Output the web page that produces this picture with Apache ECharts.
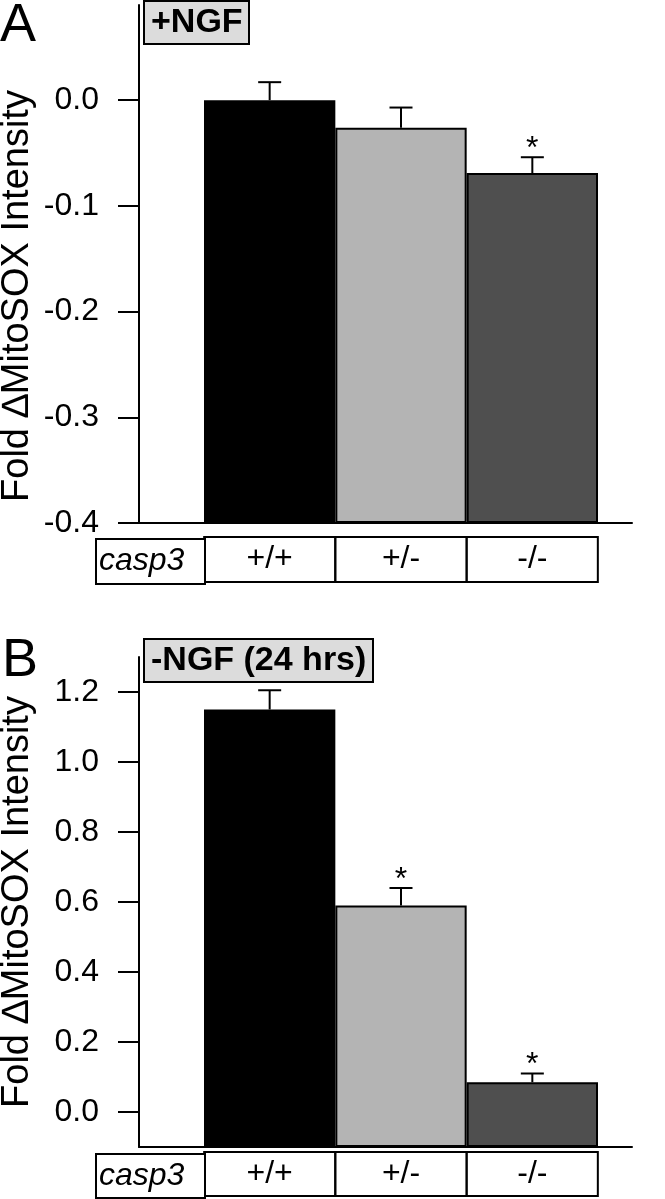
<!DOCTYPE html>
<html>
<head>
<meta charset="utf-8">
<script src="https://cdn.jsdelivr.net/npm/echarts@6/dist/echarts.min.js"></script>
<style>
  html, body { margin: 0; padding: 0; background: #fff; }
  #chart { width: 665px; height: 1199px; }
</style>
</head>
<body>
<div id="chart"></div>
<script>
const FONT = 'Liberation Sans, Arial, sans-serif'

// genotype categories and the table header
const categories = ['+/+', '+/-', '-/-']
const rowHeader = 'casp3'
const barColors = ['#000000', '#b4b4b4', '#4f4f4f']

// panel A: +NGF
const meanA = [0.0, -0.026, -0.069]
const errA = [0.017, 0.019, 0.015]
const sigA = [false, false, true]
const ticksA = [-0.4, -0.3, -0.2, -0.1, 0.0]

// panel B: -NGF (24 hrs)
const meanB = [1.15, 0.59, 0.085]
const errB = [0.055, 0.05, 0.025]
const sigB = [false, true, true]
const ticksB = [0.0, 0.2, 0.4, 0.6, 0.8, 1.0, 1.2]

const yName = 'Fold \u2206MitoSOX Intensity'

const chart = echarts.init(document.getElementById('chart'), null, { renderer: 'canvas' })

function frameY(grid, min, max, ticks) {
  return {
    type: 'value',
    gridIndex: grid,
    min: min,
    max: max,
    axisLine: { show: true, onZero: false, lineStyle: { color: '#000', width: 2 } },
    axisTick: { show: true, length: 21, customValues: ticks, lineStyle: { color: '#000', width: 2 } },
    axisLabel: {
      customValues: ticks,
      margin: 40,
      fontSize: 32,
      fontFamily: FONT,
      color: '#000',
      formatter: (v) => v.toFixed(1)
    },
    splitLine: { show: false }
  }
}

function hiddenY(grid, min, max) {
  return { type: 'value', gridIndex: grid, min: min, max: max, startValue: min, show: false, splitLine: { show: false } }
}

function frameX(grid) {
  return {
    type: 'value',
    gridIndex: grid,
    min: 0,
    max: 1,
    axisLine: { show: true, onZero: false, lineStyle: { color: '#000', width: 2 } },
    axisTick: { show: false },
    axisLabel: { show: false },
    splitLine: { show: false }
  }
}

function barX(grid) {
  return {
    type: 'category',
    gridIndex: grid,
    data: categories,
    show: false,
    axisLine: { onZero: false }
  }
}

function tableX(grid, offset, h) {
  return {
    type: 'category',
    gridIndex: grid,
    data: categories,
    position: 'bottom',
    offset: offset,
    axisLine: { show: false, onZero: false },
    axisTick: { show: false },
    axisLabel: {
      interval: 0,
      margin: 0,
      width: 129,
      height: h,
      lineHeight: h,
      align: 'center',
      verticalAlign: 'top',
      fontSize: 32,
      fontFamily: FONT,
      color: '#000',
      backgroundColor: '#fff',
      borderColor: '#000',
      borderWidth: 2
    }
  }
}

function barSeries(xi, yi, means) {
  return {
    type: 'bar',
    xAxisIndex: xi,
    yAxisIndex: yi,
    barWidth: '100%',
    barCategoryGap: '0%',
    data: means.map((v, i) => ({ value: v, itemStyle: { color: barColors[i] } })),
    itemStyle: { borderColor: '#000', borderWidth: 2 },
    z: 2
  }
}

function errorSeries(xi, yi, means, errs, sig) {
  return {
    type: 'custom',
    xAxisIndex: xi,
    yAxisIndex: yi,
    data: means.map((m, i) => [i, m, m + errs[i], sig[i] ? 1 : 0]),
    renderItem: (params, api) => {
      const base = api.coord([api.value(0), api.value(1)])
      const top = api.coord([api.value(0), api.value(2)])
      const stroke = { stroke: '#000', lineWidth: 2 }
      const children = [
        { type: 'line', shape: { x1: base[0], y1: base[1], x2: top[0], y2: top[1] }, style: stroke },
        { type: 'line', shape: { x1: top[0] - 11.5, y1: top[1], x2: top[0] + 11.5, y2: top[1] }, style: stroke }
      ]
      if (api.value(3)) {
        children.push({
          type: 'text',
          x: top[0],
          y: top[1] - 8,
          style: { text: '*', fontSize: 32, fontFamily: FONT, fill: '#000', align: 'center', verticalAlign: 'middle' }
        })
      }
      return { type: 'group', children: children }
    },
    z: 3
  }
}

function headerCell(top, h) {
  return {
    type: 'text',
    left: 95,
    top: top,
    z: 10,
    style: {
      text: rowHeader,
      width: 105,
      height: h,
      lineHeight: h,
      padding: [0, 0, 0, 2],
      fontSize: 32,
      fontStyle: 'italic',
      fontFamily: FONT,
      fill: '#000',
      backgroundColor: '#fff',
      borderColor: '#000',
      borderWidth: 2
    }
  }
}

// rotated y axis title, centred on (x, y)
function yTitle(x, y) {
  return {
    type: 'text',
    x: x,
    y: y,
    rotation: Math.PI / 2,
    style: {
      text: yName,
      fontSize: 38,
      fontFamily: FONT,
      fill: '#000',
      align: 'center',
      verticalAlign: 'middle'
    }
  }
}

const boxText = { fontSize: 34, fontWeight: 'bold', fontFamily: FONT, color: '#000', lineHeight: 37 }
const panelText = { fontSize: 54, fontWeight: 'normal', fontFamily: FONT, color: '#000' }

chart.setOption({
  animation: false,
  backgroundColor: '#fff',
  title: [
    { text: 'A', left: 0, top: -1, padding: 0, textStyle: panelText },
    { text: 'B', left: 2, top: 634, padding: 0, textStyle: panelText },
    { text: '+NGF', left: 144, top: 1, padding: [3, 7], backgroundColor: '#dcdcdc', borderColor: '#000', borderWidth: 2, textStyle: boxText },
    { text: '-NGF (24 hrs)', left: 144, top: 639, padding: [3, 7], backgroundColor: '#dcdcdc', borderColor: '#000', borderWidth: 2, textStyle: boxText }
  ],
  grid: [
    { left: 139, top: 5, width: 493, height: 518, outerBoundsMode: 'none' },
    { left: 204, top: 5, width: 394, height: 518, outerBoundsMode: 'none' },
    { left: 139, top: 657, width: 493, height: 490, outerBoundsMode: 'none' },
    { left: 204, top: 657, width: 394, height: 490, outerBoundsMode: 'none' }
  ],
  xAxis: [
    frameX(0),
    barX(1),
    tableX(1, 15, 43),
    frameX(2),
    barX(3),
    tableX(3, 6, 42)
  ],
  yAxis: [
    frameY(0, -0.4, 0.09, ticksA),
    hiddenY(1, -0.4, 0.09),
    frameY(2, -0.1, 1.3, ticksB),
    hiddenY(3, -0.1, 1.3)
  ],
  graphic: [
    yTitle(18, 296),
    yTitle(18, 902),
    headerCell(538, 43),
    headerCell(1153, 42)
  ],
  series: [
    barSeries(1, 1, meanA),
    errorSeries(1, 1, meanA, errA, sigA),
    barSeries(4, 3, meanB),
    errorSeries(4, 3, meanB, errB, sigB)
  ]
})
</script>
</body>
</html>
